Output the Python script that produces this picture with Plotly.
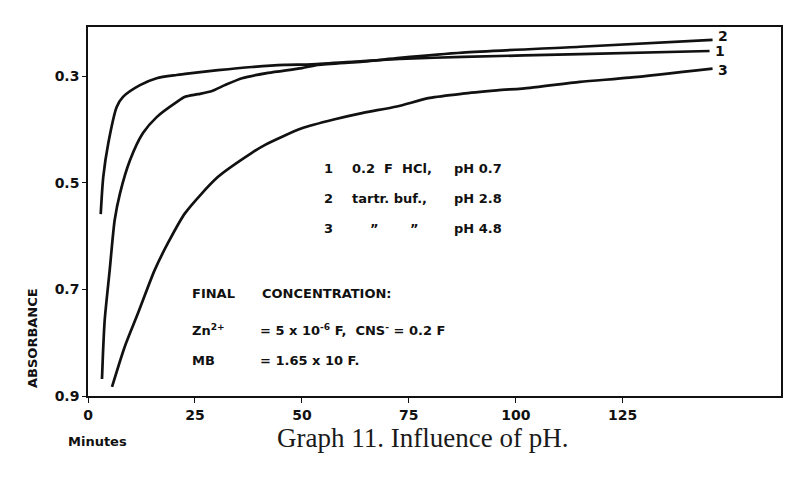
import plotly.graph_objects as go

# Data (minutes, absorbance)
t1 = [2.97, 3.57, 4.74, 6.71, 8.18, 12.15, 16.05, 20.7, 22.7, 30.4, 38.3, 46.0, 52.3, 64.3, 72.9, 87.6, 115.0, 145.3]
a1 = [0.559, 0.489, 0.426, 0.358, 0.339, 0.317, 0.304, 0.298, 0.296, 0.289, 0.283, 0.279, 0.278, 0.272, 0.268, 0.264, 0.259, 0.253]

t2 = [3.27, 3.50, 3.90, 5.07, 6.24, 7.48, 9.81, 12.85, 16.05, 20.7, 22.7, 25.7, 29.0, 32.0, 36.0, 42.1, 50.0, 53.7, 64.3, 72.9, 87.6, 115.0, 146.0]
a2 = [0.868, 0.820, 0.758, 0.664, 0.570, 0.520, 0.458, 0.407, 0.377, 0.349, 0.339, 0.334, 0.328, 0.317, 0.304, 0.294, 0.285, 0.279, 0.273, 0.266, 0.256, 0.245, 0.232]

t3 = [5.61, 8.57, 11.68, 15.58, 18.7, 22.7, 30.4, 38.3, 41.4, 50.0, 57.7, 64.3, 72.2, 79.9, 87.6, 95.6, 103.3, 115.0, 126.6, 146.0]
a3 = [0.883, 0.808, 0.745, 0.664, 0.613, 0.557, 0.489, 0.444, 0.429, 0.398, 0.381, 0.369, 0.357, 0.341, 0.333, 0.327, 0.322, 0.311, 0.303, 0.286]

curve_labels = ["1", "2", "3"]
x_ticks = [0, 25, 50, 75, 100, 125]
y_ticks = [0.3, 0.5, 0.7, 0.9]
y_ticklabels = ["0.3", "0.5", "0.7", "0.9"]

BOLD = "DejaVu Sans"
fig = go.Figure()
for t, a in [(t1, a1), (t2, a2), (t3, a3)]:
    fig.add_trace(go.Scatter(x=t, y=a, mode="lines",
                             line=dict(color="#111111", width=2.7, shape="spline", smoothing=0.7),
                             showlegend=False, hoverinfo="skip"))

# curve end labels
shifts = {"1": 0, "2": 4, "3": -1}
for lab, t, a in [("1", t1, a1), ("2", t2, a2), ("3", t3, a3)]:
    fig.add_annotation(x=t[-1], y=a[-1], text="<b>%s</b>" % lab, showarrow=False,
                       xanchor="left", yanchor="middle", xshift=3, yshift=shifts[lab],
                       font=dict(family=BOLD, size=14, color="#111"))

L, R, T, B = 88, 20, 27, 93
W, H = 801, 489
pw, ph = W - L - R, H - T - B

def px(x):
    return (x - L) / pw

def py(y):
    return (H - B - y) / ph

def txt(x, y, s, size=13, anchor="left"):
    fig.add_annotation(xref="paper", yref="paper", x=px(x), y=py(y), text="<b>%s</b>" % s,
                       showarrow=False, xanchor=anchor, yanchor="middle",
                       font=dict(family=BOLD, size=size, color="#111"))

# legend block
for i, (num, desc, ph_txt) in enumerate([("1", "0.2  F  HCl,", "pH 0.7"),
                                         ("2", "tartr. buf.,", "pH 2.8"),
                                         ("3", "", "pH 4.8")]):
    yy = 168 + i * 30
    txt(322, yy, num)
    if desc:
        txt(350, yy, desc)
    txt(452, yy, ph_txt)
txt(368, 228, "\u201d")
txt(408, 228, "\u201d")

# concentration block
txt(190, 293, "FINAL")
txt(260, 293, "CONCENTRATION:")
txt(190, 330, "Zn<sup>2+</sup>")
txt(258, 330, "= 5 x 10<sup>-6</sup> F,  CNS<sup>-</sup> = 0.2 F")
txt(190, 360, "MB")
txt(258, 360, "= 1.65 x 10 F.")

# axis titles and caption
txt(97, 441, "Minutes", size=13, anchor="center")
fig.add_annotation(xref="paper", yref="paper", x=px(32), y=py(338), text="<b>ABSORBANCE</b>",
                   showarrow=False, textangle=-90, xanchor="center", yanchor="middle",
                   font=dict(family=BOLD, size=13, color="#111"))
fig.add_annotation(xref="paper", yref="paper", x=px(422), y=py(438), text="Graph 11. Influence of pH.",
                   showarrow=False, xanchor="center", yanchor="middle",
                   font=dict(family="Liberation Serif", size=27, color="#1a1a1a"))

fig.update_layout(
    width=W, height=H, margin=dict(l=L, r=R, t=T, b=B),
    paper_bgcolor="white", plot_bgcolor="white",
    xaxis=dict(range=[0, 162], tickvals=x_ticks, ticktext=["<b>%d</b>" % v for v in x_ticks],
               ticks="outside", ticklen=5, tickcolor="#111", showline=True, linecolor="#111",
               linewidth=1.5, mirror=True, showgrid=False, zeroline=False,
               tickfont=dict(family=BOLD, size=14, color="#111")),
    yaxis=dict(range=[0.9, 0.208], tickvals=y_ticks, ticktext=["<b>%s</b>" % s for s in y_ticklabels],
               ticks="outside", ticklen=4, tickcolor="#111", showline=True, linecolor="#111",
               linewidth=1.5, mirror=True, showgrid=False, zeroline=False,
               tickfont=dict(family=BOLD, size=14, color="#111")),
)

fig.write_html("out.html")
